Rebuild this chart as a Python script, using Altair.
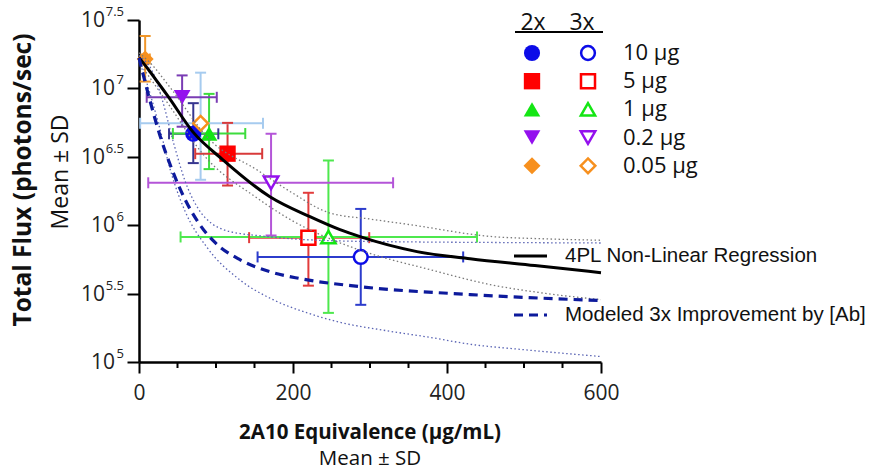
import altair as alt
import pandas as pd

# ---------------- data (x: 2A10 equivalence, µg/mL; y: log10 total flux) ----------------
doses = ["10 μg", "5 μg", "1 μg", "0.2 μg", "0.05 μg"]

# 2x (filled markers)
x2_mean = [70.5, 115, 91, 56, 8]
x2_low = [39, 73, 44, 10, 3]
x2_high = [103, 160, 138, 101, 14]
y2_mean = [6.668, 6.523, 6.67, 6.935, 7.215]
y2_low = [6.454, 6.29, 6.41, 6.72, 7.05]
y2_high = [6.892, 6.748, 6.96, 7.095, 7.383]

# 3x (open markers)
x3_mean = [288, 220, 246, 171.5, 80]
x3_low = [154, 143, 54, 12, 1.5]
x3_high = [421, 299, 439, 330, 161]
y3_mean = [5.768, 5.909, 5.914, 6.31, 6.745]
y3_low = [5.418, 5.558, 5.359, 5.925, 6.332]
y3_high = [6.119, 6.237, 6.473, 6.668, 7.115]

# 4PL regression and its band
fit_x = [0, 12, 25, 38, 70, 109, 170, 222, 261, 287, 361, 430, 514, 600]
fit_y = [7.225, 7.14, 7.04, 6.94, 6.682, 6.478, 6.208, 6.062, 5.967, 5.916, 5.807, 5.755, 5.705, 5.653]
fit_hi_x = [0, 14, 40, 92, 153, 196, 248, 300, 352, 456, 530, 600]
fit_hi_y = [7.26, 7.19, 7.01, 6.624, 6.405, 6.247, 6.089, 6.045, 6.004, 5.918, 5.90, 5.89]
fit_lo_x = [0, 40, 83, 153, 200, 257, 291, 378, 456, 530, 600]
fit_lo_y = [7.19, 6.87, 6.52, 6.20, 6.03, 5.88, 5.81, 5.675, 5.566, 5.50, 5.456]

# Modeled 3x improvement and its band
mod_x = [0, 14, 27, 43, 60, 79, 99, 131, 170, 209, 287, 430, 600]
mod_y = [7.223, 6.916, 6.66, 6.405, 6.186, 6.004, 5.872, 5.748, 5.66, 5.61, 5.551, 5.493, 5.449]
mod_hi_x = [0, 8, 16.5, 30, 45, 60, 77, 95, 110, 130, 153, 200, 260, 350, 450, 600]
mod_hi_y = [7.24, 7.2, 7.135, 6.92, 6.6, 6.32, 6.12, 6.01, 5.967, 5.94, 5.925, 5.9, 5.885, 5.878, 5.874, 5.87]
mod_lo_x = [0, 6, 25, 43, 60, 88, 131, 174, 218, 261, 320, 378, 430, 500, 600]
mod_lo_y = [7.2, 7.11, 6.75, 6.36, 6.1, 5.84, 5.6, 5.456, 5.36, 5.29, 5.23, 5.18, 5.13, 5.09, 5.04]

y_ticks = [5, 5.5, 6, 6.5, 7, 7.5]
x_ticks = [0, 200, 400, 600]
x_minor = [50, 100, 150, 250, 300, 350, 450, 500, 550]

# ---------------- styles ----------------
marker_colors = ["#0c0ce8", "#ff0000", "#14e614", "#9410ee", "#f7901e"]
err2_colors = ["#35358f", "#d83a3a", "#3ddc3d", "#7a3cb4", "#f0962a"]
err3_colors = ["#2c3ccc", "#e23c3c", "#4ee84e", "#b455d8", "#a6cbef"]
shapes = ["circle", "square", "triangle-up", "triangle-down", "diamond"]
filled_sizes = [260, 289, 324, 324, 324]
open_sizes = [190, 215, 256, 256, 230]
FONT = "Open Sans"

# ---------------- tables ----------------
rows = []
for g, xm, xl, xh, ym, yl, yh in [
    ("3x", x3_mean, x3_low, x3_high, y3_mean, y3_low, y3_high),
    ("2x", x2_mean, x2_low, x2_high, y2_mean, y2_low, y2_high),
]:
    for i, d in enumerate(doses):
        rows.append(dict(group=g, dose=d, key=g + " " + d, x=xm[i], xlo=xl[i], xhi=xh[i],
                         y=ym[i], ylo=yl[i], yhi=yh[i]))
pts = pd.DataFrame(rows)
keys = ["2x " + d for d in doses] + ["3x " + d for d in doses]

crv = []
for name, xs, ys in [("fit", fit_x, fit_y), ("fit_hi", fit_hi_x, fit_hi_y), ("fit_lo", fit_lo_x, fit_lo_y),
                     ("mod", mod_x, mod_y), ("mod_hi", mod_hi_x, mod_hi_y), ("mod_lo", mod_lo_x, mod_lo_y)]:
    for a, b in zip(xs, ys):
        crv.append(dict(curve=name, x=a, y=b))
curves = pd.DataFrame(crv)

one = pd.DataFrame({"k": [0]})
legdf = pd.DataFrame({"dose": doses, "row": list(range(len(doses)))})
ytk = pd.DataFrame({"e": y_ticks})
minor_df = pd.DataFrame({"t": x_minor})

# ---------------- scales / axes ----------------
XS = alt.Scale(domain=[0, 600], nice=False, zero=False)
YS = alt.Scale(domain=[5, 7.5], nice=False, zero=False)
xaxis = alt.Axis(values=x_ticks, title=None, grid=False, labelFont=FONT, labelFontSize=21,
                 labelColor="#222222", tickSize=11, tickWidth=2, tickColor="black",
                 domainColor="black", domainWidth=2.5, labelPadding=9, labelAngle=0, labelFlush=False)
yaxis = alt.Axis(values=y_ticks, title=None, grid=False, labels=False, tickSize=12, tickWidth=2,
                 tickColor="black", domainColor="black", domainWidth=2.5)


def ex(f):
    return alt.X(f, type="quantitative", scale=XS, axis=xaxis)


def ey(f):
    return alt.Y(f, type="quantitative", scale=YS, axis=yaxis)


ecol = alt.Color("key:N", scale=alt.Scale(domain=keys, range=err2_colors + err3_colors), legend=None)
mcol = alt.Color("dose:N", scale=alt.Scale(domain=doses, range=marker_colors), legend=None)
mshape = alt.Shape("dose:N", scale=alt.Scale(domain=doses, range=shapes), legend=None)

P = alt.Chart(pts)
vbar = P.mark_rule(strokeWidth=2).encode(x=ex("x"), y=ey("ylo"), y2=alt.Y2("yhi"), color=ecol)
hbar = P.mark_rule(strokeWidth=2).encode(x=ex("xlo"), x2=alt.X2("xhi"), y=ey("y"), color=ecol)
cap_t = P.mark_tick(orient="horizontal", size=11, thickness=2, opacity=1).encode(x=ex("x"), y=ey("yhi"), color=ecol)
cap_b = P.mark_tick(orient="horizontal", size=11, thickness=2, opacity=1).encode(x=ex("x"), y=ey("ylo"), color=ecol)
cap_l = P.mark_tick(orient="vertical", size=11, thickness=2, opacity=1).encode(x=ex("xlo"), y=ey("y"), color=ecol)
cap_r = P.mark_tick(orient="vertical", size=11, thickness=2, opacity=1).encode(x=ex("xhi"), y=ey("y"), color=ecol)

filled_pts = P.transform_filter("datum.group == '2x'").mark_point(filled=True, opacity=1).encode(
    x=ex("x"), y=ey("y"), color=mcol, shape=mshape,
    size=alt.Size("dose:O", scale=alt.Scale(domain=doses, range=filled_sizes), legend=None))
open_pts = P.transform_filter("datum.group == '3x'").mark_point(filled=False, fill="white", strokeWidth=2.5, opacity=1).encode(
    x=ex("x"), y=ey("y"), color=mcol, shape=mshape,
    size=alt.Size("dose:O", scale=alt.Scale(domain=doses, range=open_sizes), legend=None))

C = alt.Chart(curves)
bands = C.transform_filter("indexof(['fit_hi','fit_lo','mod_hi','mod_lo'], datum.curve) >= 0").mark_line(
    strokeDash=[1.5, 2.5], strokeWidth=1.3, interpolate="monotone").encode(
    x=ex("x"), y=ey("y"), detail="curve:N",
    color=alt.Color("curve:N", scale=alt.Scale(domain=["fit_hi", "fit_lo", "mod_hi", "mod_lo"],
                                               range=["#7a7a7a", "#7a7a7a", "#5a64b4", "#5a64b4"]), legend=None))
fit_line = C.transform_filter("datum.curve == 'fit'").mark_line(color="black", strokeWidth=3, interpolate="monotone").encode(
    x=ex("x"), y=ey("y"))
mod_line = C.transform_filter("datum.curve == 'mod'").mark_line(color="#0d1a9c", strokeWidth=3.2, strokeDash=[9, 6],
                                                                interpolate="monotone").encode(x=ex("x"), y=ey("y"))

minor = alt.Chart(minor_df).mark_rule(strokeWidth=2, color="black").encode(
    x=ex("t"), y=alt.value(342), y2=alt.value(348))

# y tick labels 10^e
Y = alt.Chart(ytk).transform_calculate(s="toString(datum.e)")
ten_int = Y.transform_filter("datum.e % 1 == 0").mark_text(text="10", align="right", baseline="middle", font=FONT,
                                                           fontSize=21, dy=1, color="#222222").encode(
    x=alt.value(-24), y=ey("e"))
ten_half = Y.transform_filter("datum.e % 1 != 0").mark_text(text="10", align="right", baseline="middle", font=FONT,
                                                            fontSize=21, dy=1, color="#222222").encode(
    x=alt.value(-34), y=ey("e"))
expo = Y.mark_text(align="right", baseline="middle", font=FONT, fontSize=13, dy=-8, color="#222222").encode(
    x=alt.value(-15), y=ey("e"), text="s:N")


def label(text, x, y, size, weight="normal", angle=0, font=FONT, align="center"):
    return alt.Chart(one).mark_text(text=text, font=font, fontSize=size, fontWeight=weight, angle=angle,
                                    align=align, baseline="middle", color="#111111").encode(
        x=alt.value(x), y=alt.value(y))


titles = [
    label("Total Flux (photons/sec)", -115, 160, 24.5, "bold", 270),
    label("Mean ± SD", -78, 152, 23, "normal", 270),
    label("2A10 Equivalence (μg/mL)", 231, 413, 20.5, "bold"),
    label("Mean ± SD", 231, 439, 20.5, "normal"),
    label("2x", 394, 3, 23),
    label("3x", 443, 3, 23),
    label("4PL Non-Linear Regression", 426, 236, 20.5, font="Liberation Sans", align="left"),
    label("Modeled 3x Improvement by [Ab]", 426, 295, 20.5, font="Liberation Sans", align="left"),
]

underline = alt.Chart(one).mark_rule(color="black", strokeWidth=2).encode(
    x=alt.value(376), x2=alt.value(464), y=alt.value(12))
leg_fit = alt.Chart(one).mark_rule(color="black", strokeWidth=3).encode(
    x=alt.value(375), x2=alt.value(408), y=alt.value(236))
leg_mod = alt.Chart(one).mark_rule(color="#0d1a9c", strokeWidth=3.2, strokeDash=[9, 6]).encode(
    x=alt.value(375), x2=alt.value(408), y=alt.value(295))

L = alt.Chart(legdf).transform_calculate(py="33 + 28.2 * datum.row")
leg_filled = L.mark_point(filled=True, opacity=1).encode(
    x=alt.value(393), y=alt.Y("py:Q", scale=None, axis=None), color=mcol, shape=mshape,
    size=alt.Size("dose:O", scale=alt.Scale(domain=doses, range=filled_sizes), legend=None))
leg_open = L.mark_point(filled=False, fill="white", strokeWidth=2.5, opacity=1).encode(
    x=alt.value(449), y=alt.Y("py:Q", scale=None, axis=None), color=mcol, shape=mshape,
    size=alt.Size("dose:O", scale=alt.Scale(domain=doses, range=open_sizes), legend=None))
leg_text = L.mark_text(align="left", baseline="middle", font=FONT, fontSize=22, color="#111111").encode(
    x=alt.value(484), y=alt.Y("py:Q", scale=None, axis=None), text="dose:N")

chart = alt.layer(
    vbar, hbar, cap_t, cap_b, cap_l, cap_r,
    filled_pts, open_pts,
    bands, fit_line, mod_line,
    minor, ten_int, ten_half, expo,
    *titles, underline, leg_fit, leg_mod,
    leg_filled, leg_open, leg_text,
).resolve_scale(
    color="independent", shape="independent", size="independent"
).properties(
    width=462, height=342,
    autosize=alt.AutoSizeParams(type="none"),
    padding={"left": 139, "top": 20, "right": 274, "bottom": 110},
).configure_view(stroke=None)

chart.save("out.html", embed_options={"renderer": "svg", "actions": False})
